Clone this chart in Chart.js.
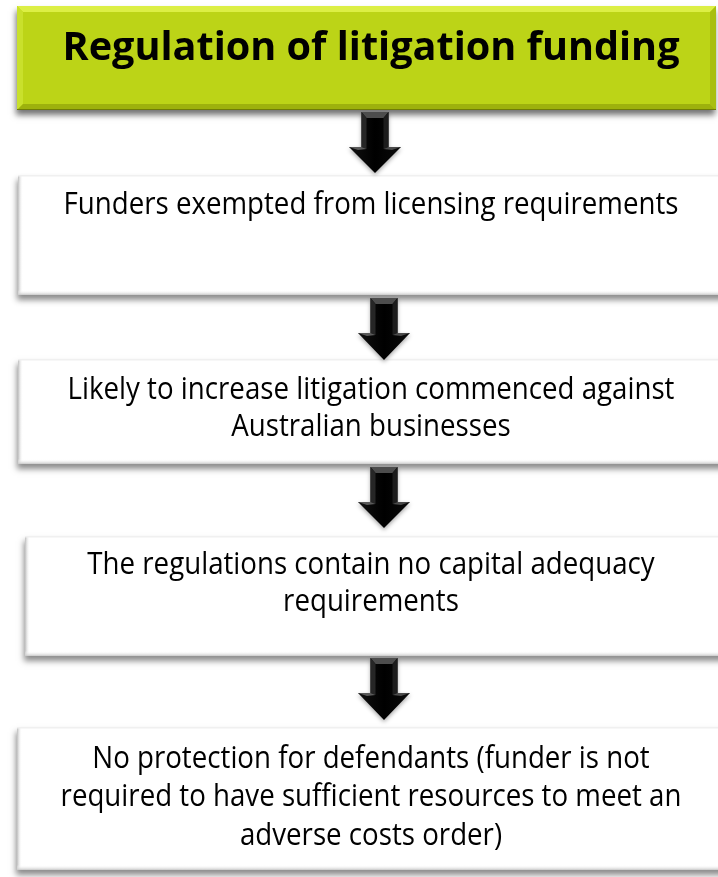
<!DOCTYPE html>
<html><head><meta charset="utf-8">
<script src="https://cdn.jsdelivr.net/npm/chart.js@4.4.0/dist/chart.umd.min.js"></script>
<style>html,body{margin:0;padding:0;background:#fff;overflow:hidden}canvas{display:block}</style>
</head><body>
<canvas id="c" width="718" height="877"></canvas>
<script>
// ---- content ----
const title = "Regulation of litigation funding";
const step1 = ["Funders exempted from licensing requirements"];
const step2 = ["Likely to increase litigation commenced against", "Australian businesses"];
const step3 = ["The regulations contain no capital adequacy", "requirements"];
const step4 = ["No protection for defendants (funder is not", "required to have sufficient resources to meet an", "adverse costs order)"];
const steps = [step1, step2, step3, step4];

// ---- layout (diagram units, mapped through the chart scales) ----
const layout = {
  W: 718, H: 877,
  titleBox: {x0: 17, x1: 716, y0: 6, y1: 110, baseline: 60, width: 617},
  boxes: [
    {x0: 18, x1: 726, y0: 175, y1: 295, baselines: [214]},
    {x0: 18, x1: 726, y0: 359, y1: 464, baselines: [399, 436]},
    {x0: 25, x1: 726, y0: 536, y1: 656, baselines: [574, 611]},
    {x0: 17, x1: 726, y0: 727, y1: 870, baselines: [768, 806, 845]}
  ],
  arrows: [
    {cx: 375, top: 112, head: 147, tip: 173},
    {cx: 384, top: 298, head: 333, tip: 360},
    {cx: 384, top: 467, head: 502, tip: 528},
    {cx: 384, top: 658, head: 693, tip: 720}
  ],
  shaftW: 27, headW: 52, textCx: 371, bodyRefWidth: 615
};

const diagram = {
  id: 'diagram',
  afterDraw(chart) {
    const ctx = chart.ctx;
    const X = v => chart.scales.x.getPixelForValue(v);
    const Y = v => chart.scales.y.getPixelForValue(v);
    const poly = (pts, fill) => { ctx.beginPath(); ctx.moveTo(pts[0][0], pts[0][1]); for (let i = 1; i < pts.length; i++) ctx.lineTo(pts[i][0], pts[i][1]); ctx.closePath(); ctx.fillStyle = fill; ctx.fill(); };

    // title box
    const t = layout.titleBox;
    const tx0 = X(t.x0), tx1 = X(t.x1), ty0 = Y(t.y0), ty1 = Y(t.y1);
    ctx.save();
    ctx.shadowColor = 'rgba(0,0,0,0.55)'; ctx.shadowBlur = 6; ctx.shadowOffsetX = -1; ctx.shadowOffsetY = 5;
    ctx.fillStyle = '#bcd417';
    ctx.fillRect(tx0, ty0, tx1 - tx0, ty1 - ty0);
    ctx.restore();
    const bv = 6;
    poly([[tx0, ty0], [tx1, ty0], [tx1 - bv, ty0 + bv], [tx0 + bv, ty0 + bv]], '#dcef45');
    poly([[tx0, ty0], [tx0 + bv, ty0 + bv], [tx0 + bv, ty1 - bv], [tx0, ty1]], '#c9e02c');
    poly([[tx1, ty0], [tx1, ty1], [tx1 - bv, ty1 - bv], [tx1 - bv, ty0 + bv]], '#a9bf10');
    poly([[tx0, ty1], [tx1, ty1], [tx1 - bv, ty1 - bv], [tx0 + bv, ty1 - bv]], '#9db10d');
    ctx.fillStyle = '#6f7c08'; ctx.fillRect(tx0, ty1 - 1, tx1 - tx0, 1);

    // white boxes
    layout.boxes.forEach(b => {
      const x0 = X(b.x0), x1 = X(b.x1), y0 = Y(b.y0), y1 = Y(b.y1);
      const w = x1 - x0, h = y1 - y0;
      ctx.save();
      ctx.shadowColor = 'rgba(0,0,0,0.45)'; ctx.shadowBlur = 6; ctx.shadowOffsetX = -1; ctx.shadowOffsetY = 5;
      ctx.fillStyle = '#fff'; ctx.fillRect(x0, y0, w, h);
      ctx.restore();
      let g = ctx.createLinearGradient(x0, 0, x0 + 5, 0);
      g.addColorStop(0, '#bdbdbd'); g.addColorStop(1, 'rgba(255,255,255,0)');
      ctx.fillStyle = g; ctx.fillRect(x0, y0, 5, h);
      g = ctx.createLinearGradient(0, y1 - 5, 0, y1);
      g.addColorStop(0, 'rgba(255,255,255,0)'); g.addColorStop(1, '#c8c8c8');
      ctx.fillStyle = g; ctx.fillRect(x0, y1 - 5, w, 5);
      ctx.fillStyle = '#f0f0f0'; ctx.fillRect(x0, y0, w, 1.5);
    });

    // arrows
    layout.arrows.forEach(a => {
      const cx = X(a.cx), top = Y(a.top), head = Y(a.head), tip = Y(a.tip);
      const hw = layout.shaftW / 2, Hw = layout.headW / 2;
      const pts = [[cx - hw, top], [cx + hw, top], [cx + hw, head], [cx + Hw, head], [cx, tip], [cx - Hw, head], [cx - hw, head]];
      ctx.save();
      ctx.shadowColor = 'rgba(0,0,0,0.35)'; ctx.shadowBlur = 4; ctx.shadowOffsetY = 2;
      const g = ctx.createLinearGradient(cx - Hw, 0, cx + Hw, 0);
      g.addColorStop(0, '#111'); g.addColorStop(0.5, '#000'); g.addColorStop(1, '#0a0a0a');
      poly(pts, g);
      ctx.restore();
      poly([[cx - hw, top], [cx + hw, top], [cx + hw - 5, top + 6], [cx - hw + 5, top + 6]], '#4d4d4d');
      poly([[cx - hw, top], [cx - hw + 5, top + 6], [cx - hw + 5, head + 2], [cx - hw, head]], '#262626');
      poly([[cx + hw, top], [cx + hw - 5, top + 6], [cx + hw - 5, head + 2], [cx + hw, head]], '#1c1c1c');
      poly([[cx - Hw, head], [cx - hw, head], [cx - hw + 5, head + 2], [cx - Hw + 9, head + 3]], '#5a5a5a');
      poly([[cx + Hw, head], [cx + hw, head], [cx + hw - 5, head + 2], [cx + Hw - 9, head + 3]], '#4a4a4a');
    });

    // text
    const fam = '"Open Sans", "Noto Sans", sans-serif';
    ctx.fillStyle = '#000';
    ctx.textAlign = 'center'; ctx.textBaseline = 'alphabetic';
    ctx.font = 'bold 40px ' + fam;
    const fT = t.width / ctx.measureText(title).width;
    ctx.save(); ctx.translate(X(layout.textCx), Y(t.baseline)); ctx.scale(fT, 1); ctx.fillText(title, 0, 0); ctx.restore();

    ctx.font = '31px ' + fam;
    const fB = layout.bodyRefWidth / ctx.measureText(step1[0]).width;
    steps.forEach((lines, i) => {
      const b = layout.boxes[i];
      lines.forEach((ln, j) => {
        ctx.save(); ctx.translate(X(layout.textCx), Y(b.baselines[j])); ctx.scale(fB, 1); ctx.fillText(ln, 0, 0); ctx.restore();
      });
    });
  }
};

function build() {
  new Chart(document.getElementById('c'), {
    type: 'scatter',
    data: {datasets: [{data: [], pointRadius: 0}]},
    options: {
      responsive: false, animation: false, devicePixelRatio: 1,
      layout: {padding: 0},
      plugins: {legend: {display: false}, tooltip: {enabled: false}},
      scales: {
        x: {type: 'linear', min: 0, max: layout.W, display: false},
        y: {type: 'linear', min: 0, max: layout.H, reverse: true, display: false}
      }
    },
    plugins: [diagram]
  });
}
const loads = document.fonts ? Promise.all([document.fonts.load('31px "Open Sans"'), document.fonts.load('bold 40px "Open Sans"')]) : Promise.resolve();
loads.then(build, build);
</script>
</body></html>
